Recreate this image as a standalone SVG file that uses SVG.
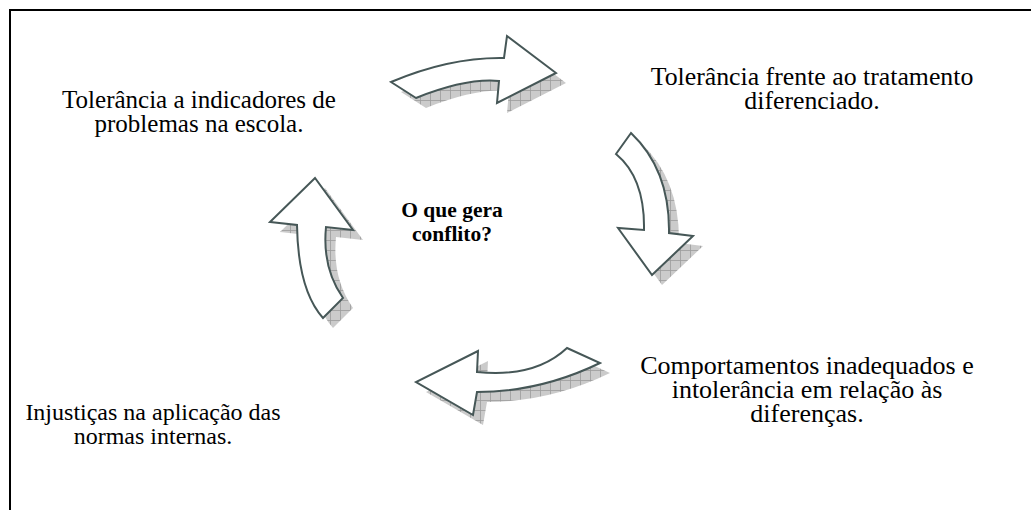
<svg xmlns="http://www.w3.org/2000/svg" width="1031" height="510" viewBox="0 0 1031 510">
<style>
.lbl{font-family:"Liberation Serif","Times New Roman",serif;font-size:25px;fill:#000;text-anchor:middle}
.ctr{font-family:"Liberation Serif","Times New Roman",serif;font-size:21.5px;font-weight:bold;fill:#000;text-anchor:middle}
.arr{fill:#fff;stroke:#465757;stroke-width:2;stroke-linejoin:miter}
.shd{fill:url(#hatch);stroke:none}
</style>
<defs>
<pattern id="hatch" width="10" height="10" patternUnits="userSpaceOnUse">
<rect width="10" height="10" fill="#cbcbcb"/>
<path d="M0,0.5 H10 M0.5,0 V10" stroke="#9c9c9c" stroke-width="0.8"/>
</pattern>
</defs>
<rect width="1031" height="510" fill="#fff"/>
<path d="M10,510 V10 H1031" fill="none" stroke="#000" stroke-width="2"/>
<g id="connectors">
<g id="arrow-top">
<path class="shd" transform="translate(10,10)" d="M391,82 Q450,57 504,58 L507,36 L556,73 L497,103 L499,81 Q466,78 416,98 Z"/>
<path class="arr" d="M391,82 Q450,57 504,58 L507,36 L556,73 L497,103 L499,81 Q466,78 416,98 Z"/>
</g>
<g id="arrow-right">
<path class="shd" transform="translate(10,10)" d="M631,133 L616,154 Q645,178 644,230 L618,228 L652,275 L693,236 L669,233 Q670,170 631,133 Z"/>
<path class="arr" d="M631,133 L616,154 Q645,178 644,230 L618,228 L652,275 L693,236 L669,233 Q670,170 631,133 Z"/>
</g>
<g id="arrow-bottom">
<path class="shd" transform="translate(10,10)" d="M567,348 L600,363 Q540,392 477,392 L473,415 L416,382 L478,351 L477,372 Q535,378 567,348 Z"/>
<path class="arr" d="M567,348 L600,363 Q540,392 477,392 L473,415 L416,382 L478,351 L477,372 Q535,378 567,348 Z"/>
</g>
<g id="arrow-left">
<path class="shd" transform="translate(10,10)" d="M323,318 L343,298 Q322,268 326,227 L353,230 L315,178 L270,222 L297,225 Q298,290 323,318 Z"/>
<path class="arr" d="M323,318 L343,298 Q322,268 326,227 L353,230 L315,178 L270,222 L297,225 Q298,290 323,318 Z"/>
</g>
</g>
<g id="node-center">
<text class="ctr" x="452" y="217">O que gera</text>
<text class="ctr" x="452" y="241">conflito?</text>
</g>
<g id="node-topleft">
<text class="lbl" x="199" y="108">Tolerância a indicadores de</text>
<text class="lbl" x="199" y="132">problemas na escola.</text>
</g>
<g id="node-topright">
<text class="lbl" x="812" y="85" style="font-size:25.8px">Tolerância frente ao tratamento</text>
<text class="lbl" x="812" y="109" style="font-size:25.8px">diferenciado.</text>
</g>
<g id="node-bottomright">
<text class="lbl" x="807" y="374" style="font-size:26px">Comportamentos inadequados e</text>
<text class="lbl" x="807" y="398" style="font-size:26px">intolerância em relação às</text>
<text class="lbl" x="807" y="422" style="font-size:26px">diferenças.</text>
</g>
<g id="node-bottomleft">
<text class="lbl" x="153" y="420" style="font-size:24px">Injustiças na aplicação das</text>
<text class="lbl" x="153" y="444" style="font-size:24px">normas internas.</text>
</g>
</svg>
